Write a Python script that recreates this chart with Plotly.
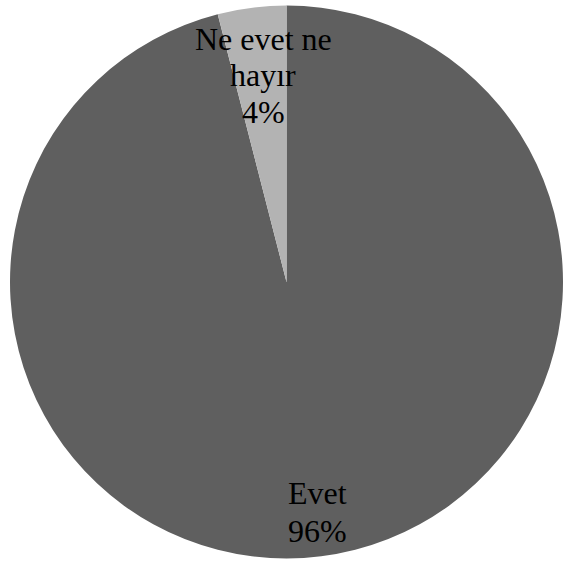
import plotly.graph_objects as go

labels = ["Evet", "Ne evet ne hayır"]
values = [96, 4]
label_lines = [["Evet", "96%"], ["Ne evet ne", "hayır", "4%"]]
colors = ["#5f5f5f", "#b3b3b3"]

W, H = 563, 565
L, R, T, B = 10, 0, 3, 4
pw, ph = W - L - R, H - T - B

def px_x(x):
    return (x - L) / pw

def px_y(y):
    return 1 - (y - T) / ph

fig = go.Figure(go.Pie(
    labels=labels,
    values=values,
    sort=False,
    direction="clockwise",
    rotation=0,
    marker=dict(colors=colors, line=dict(width=0)),
    textinfo="none",
    hoverinfo="label+percent",
    showlegend=False,
))

# label positions (pixel centres) for each line
label_pos = [
    (317, [493, 531]),
    (263, [39, 75, 112]),
]
annotations = []
for lines, (cx, ys) in zip(label_lines, label_pos):
    for text, cy in zip(lines, ys):
        annotations.append(dict(
            text=text, x=px_x(cx), y=px_y(cy), xref="paper", yref="paper",
            xanchor="center", yanchor="middle", showarrow=False,
            font=dict(family="Liberation Serif", size=32, color="#000000"),
        ))

fig.update_layout(
    width=W, height=H,
    margin=dict(l=L, r=R, t=T, b=B),
    paper_bgcolor="white",
    plot_bgcolor="white",
    annotations=annotations,
)

fig.write_html(
    "out.html",
    config={"displayModeBar": False},
    post_script="document.body.style.margin='0px';"
                "document.body.style.overflow='hidden';",
)
